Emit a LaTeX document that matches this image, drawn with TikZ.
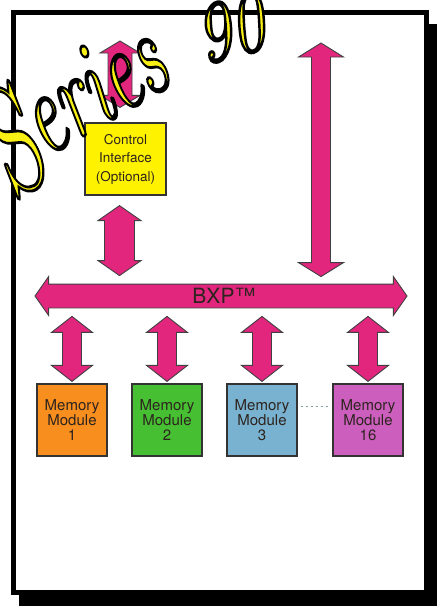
\documentclass[tikz,border=0pt]{standalone}
\usepackage{fontspec}
\usepackage{graphicx}
\newfontfamily\helv{TeX Gyre Heros}
\usetikzlibrary{shapes.arrows,calc}
\definecolor{busPink}{RGB}{226,38,126}
\definecolor{ciYellow}{RGB}{255,242,0}
\definecolor{sigYellow}{RGB}{248,240,20}
\definecolor{modOrange}{RGB}{247,142,30}
\definecolor{modGreen}{RGB}{70,192,50}
\definecolor{modBlue}{RGB}{120,178,208}
\definecolor{modViolet}{RGB}{204,95,190}
\definecolor{inkDark}{RGB}{45,35,30}
\definecolor{dotGrey}{RGB}{130,160,160}
\newcommand\sigtext[1]{\color{sigYellow}%
  \special{pdf:literal direct 2 Tr 3 w 0 0 0 RG}#1\special{pdf:literal direct 0 Tr}}
\begin{document}
\begin{tikzpicture}[x=1pt,y=-1pt,
  arr/.style={fill=busPink, draw=black!75, line width=0.9pt, line join=miter},
  dbl/.style args={#1/#2/#3}{to path={let \p1=(\tikztostart), \p2=(\tikztotarget) in
     (\x1,\y1) -- (\x1+#2,\y1-#3) -- (\x1+#1,\y1-#3) -- (\x1+#1,\y2+#3) -- (\x1+#2,\y2+#3)
     -- (\x1,\y2) -- (\x1-#2,\y2+#3) -- (\x1-#1,\y2+#3) -- (\x1-#1,\y1-#3) -- (\x1-#2,\y1-#3) -- cycle}},
  module/.style={draw=black!80, line width=1.2pt, minimum width=70pt, minimum height=72pt,
     inner sep=0pt, align=center, font=\helv\fontsize{15}{15}\selectfont, text=inkDark},
  ctrlbox/.style={fill=ciYellow, draw=black!80, line width=1.2pt, minimum width=81pt,
     minimum height=72pt, inner sep=0pt, align=center,
     font=\helv\fontsize{13.5}{18.5}\selectfont, text=inkDark},
  busarrow/.style={double arrow, fill=busPink, draw=black!75, line width=0.9pt,
     minimum height=372pt, double arrow head extend=7.5pt,
     double arrow tip angle=110, inner sep=0pt, font=\helv\fontsize{21}{21}\selectfont,
     text=inkDark},
  dotline/.style={draw=dotGrey, line width=1pt, dash pattern=on 2pt off 3pt},
  sig/.style={inner sep=0pt, anchor=base west},
]
\useasboundingbox (0,0) rectangle (437,606);
\clip (0,0) rectangle (437,606);
% frame with shadow
\fill[black] (19,24) rectangle (437,606);
\draw[fill=white, line width=5pt] (13.5,12.5) rectangle (426.5,592);

% nodes
\node[ctrlbox] (ctrl) at (125.5,159) {Control\\Interface\\(Optional)};
\node[busarrow] (bus) at (221,296) {\raisebox{-7.5pt}[11.5pt][11.5pt]{\hspace*{6pt}BXP™}};
\node[module, fill=modOrange] (m1) at (72,420) {Memory\\Module\\1};
\node[module, fill=modGreen] (m2) at (167,420) {Memory\\Module\\2};
\node[module, fill=modBlue] (m3) at (262,420) {Memory\\Module\\3};
\node[module, fill=modViolet] (m16) at (368,420) {Memory\\Module\\16};
\coordinate (ctop) at (120,41);
\coordinate (rtop) at (321,43);

% connectors
\draw[arr, dbl=12pt/20pt/12pt] (ctop) to ($(ctrl.north)+(-5.5,-15)$);
\draw[arr, dbl=15pt/21.5pt/15pt] ($(ctrl.south)+(-6,10)$) to ($(bus.north -| ctrl.south)+(-6,-8)$);
\draw[arr, dbl=9.5pt/22.5pt/14pt] (rtop) to ($(bus.north -| rtop)+(0,-7)$);
\foreach \m in {m1,m2,m3,m16}
  \draw[arr, dbl=9.5pt/20.5pt/16pt] ($(bus.south -| \m.north)+(0,8)$) to ($(\m.north)+(0,-2)$);
\draw[dotline] ($(m3.east)+(3,-14)$) -- ($(m16.west)+(-3,-14)$);

% signature
\node[sig, rotate=30] (sigA) at (1,183)
  {\scalebox{0.62}[1]{\itshape\sigtext{\fontsize{150}{150}\selectfont\raisebox{-20pt}{S}%
   \fontsize{120}{120}\selectfont eries}}};
\node[sig, rotate=15] (sigB) at (204,64)
  {\scalebox{0.8}[1]{\fontsize{85}{85}\selectfont\itshape\sigtext{90}}};
\end{tikzpicture}
\end{document}
